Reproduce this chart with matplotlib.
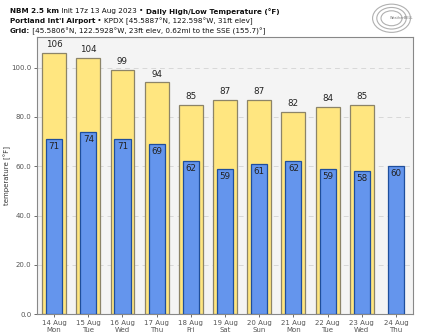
import matplotlib
matplotlib.use("Agg")
import matplotlib.pyplot as plt
from matplotlib.patches import Ellipse

# data
days = ["14 Aug\nMon", "15 Aug\nTue", "16 Aug\nWed", "17 Aug\nThu", "18 Aug\nFri",
        "19 Aug\nSat", "20 Aug\nSun", "21 Aug\nMon", "22 Aug\nTue", "23 Aug\nWed",
        "24 Aug\nThu"]
highs = [106, 104, 99, 94, 85, 87, 87, 82, 84, 85]
lows = [71, 74, 71, 69, 62, 59, 61, 62, 59, 58, 60]
yticks = [0, 20, 40, 60, 80, 100]

fig = plt.figure(figsize=(4.21, 3.32), dpi=100)
fig.patch.set_facecolor("white")
ax = fig.add_axes([0.088, 0.054, 0.893, 0.835])
ax.set_facecolor("#f4f4f4")

x_hi = list(range(len(highs)))
x_lo = list(range(len(lows)))

ax.bar(x_hi, highs, width=0.7, color="#ffe680", edgecolor="#8c8468", linewidth=0.9, zorder=2)
ax.bar(x_lo, lows, width=0.47, color="#6495ed", edgecolor="#1f4e9c", linewidth=0.9, zorder=3)

for xi, h in zip(x_hi, highs):
    ax.text(xi, h + 1.5, str(h), ha="center", va="bottom", fontsize=6.3, color="#222222", zorder=4)
for xi, l in zip(x_lo, lows):
    ax.text(xi, l - 1.2, str(l), ha="center", va="top", fontsize=6.3, color="#222222", zorder=4)

ax.set_xlim(-0.5, len(days) - 0.5)
ax.set_ylim(0, 112.5)
ax.set_xticks(range(len(days)))
ax.set_xticklabels(days, fontsize=5, color="#333333", linespacing=1.2)
ax.set_yticks(yticks)
ax.set_yticklabels([f"{v:.1f}" for v in yticks], fontsize=5, color="#333333")
ax.tick_params(length=2.5, width=0.6, colors="#555555", pad=1.5)
ax.grid(axis="y", linestyle=(0, (5, 4)), color="#d8d8d8", linewidth=0.7, zorder=0)
for s in ax.spines.values():
    s.set_color("#888888")
    s.set_linewidth(0.8)
ax.set_ylabel("temperature [°F]", fontsize=5, color="#333333")
ax.yaxis.set_label_coords(-0.069, 0.5)

# header lines with bold / normal parts
header = [
    [("NBM 2.5 km", "bold"), (" Init 17z 13 Aug 2023 • ", "normal"),
     ("Daily High/Low Temperature (°F)", "bold")],
    [("Portland Int'l Airport", "bold"), (" • KPDX [45.5887°N, 122.598°W, 31ft elev]", "normal")],
    [("Grid:", "bold"), (" [45.5806°N, 122.5928°W, 23ft elev, 0.62mi to the SSE (155.7)°]", "normal")],
]
fig.canvas.draw()
renderer = fig.canvas.get_renderer()
y0 = 0.975
for line in header:
    xpos = 10 / 421
    for txt, w in line:
        t = fig.text(xpos, y0, txt, fontsize=5.2, fontweight=w, color="#111111", va="top", ha="left")
        bb = t.get_window_extent(renderer=renderer)
        xpos += bb.width / fig.bbox.width
    y0 -= 0.029

# simple logo
for w, h in [(0.09, 0.085), (0.07, 0.065), (0.05, 0.045)]:
    fig.patches.append(Ellipse((0.93, 0.945), w, h, transform=fig.transFigure,
                               facecolor="none", edgecolor="#b0b0b0", linewidth=0.8))
fig.text(0.955, 0.945, "WeatherBELL", fontsize=2.5, color="#777777", ha="center", va="center")

fig.savefig("out.png", dpi=100)
